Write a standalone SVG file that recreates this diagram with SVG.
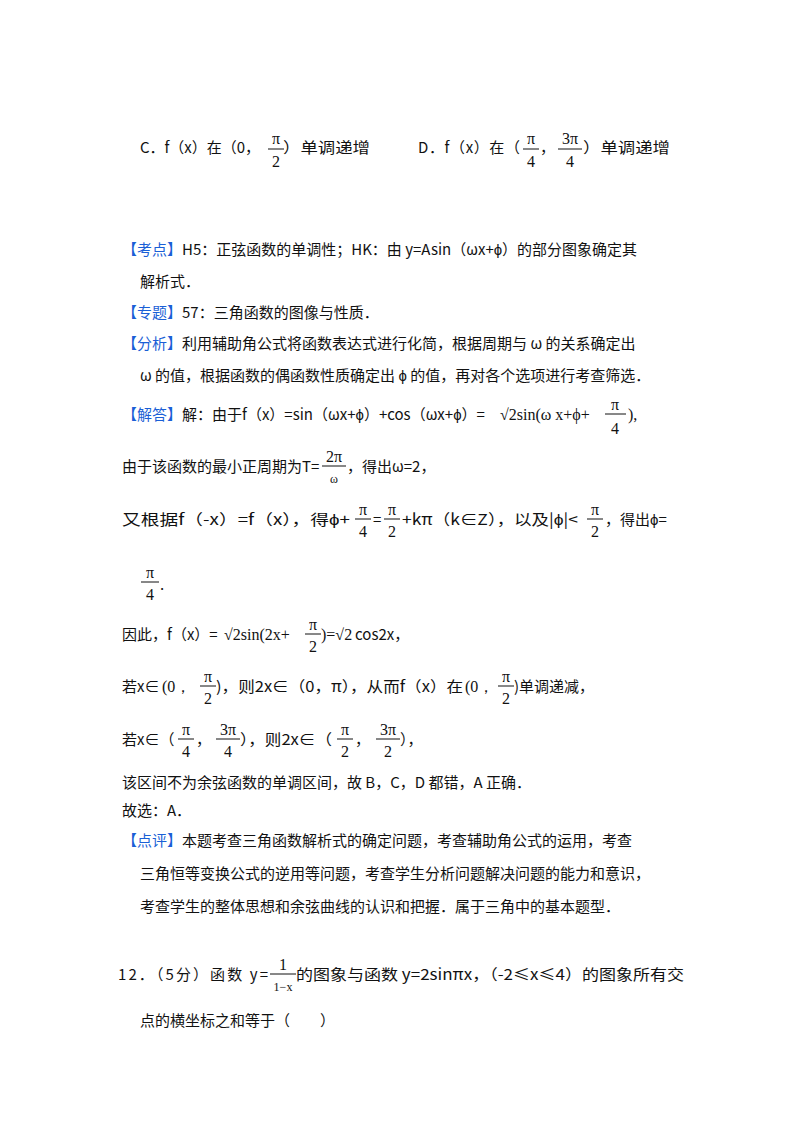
<svg xmlns="http://www.w3.org/2000/svg" width="800" height="1133" viewBox="0 0 800 1133">
<style>
text{font-family:"Noto Sans CJK SC","Liberation Sans",sans-serif;font-size:15px;fill:#111}
.b{fill:#1a5fd6}
.m{font-family:"Liberation Serif","DejaVu Serif",serif;font-size:16px;text-anchor:middle}
.s{font-family:"Liberation Serif","DejaVu Serif",serif;font-size:16px}
line{stroke:#111;stroke-width:1}
</style>
<rect width="800" height="1133" fill="#fff"/>
<g id="options">
<text x="140" y="153" textLength="120" lengthAdjust="spacing">C．f（x）在（0，</text>
<text class="m" x="276" y="144">π</text><line x1="268" y1="149" x2="284" y2="149"/><text class="m" x="276" y="167">2</text>
<text x="283" y="153" textLength="87" lengthAdjust="spacingAndGlyphs">）单调递增</text>
<text x="418" y="153" textLength="102" lengthAdjust="spacing">D．f（x）在（</text>
<text class="m" x="531" y="144">π</text><line x1="523" y1="149" x2="539" y2="149"/><text class="m" x="531" y="167">4</text>
<text x="540" y="153">，</text>
<text class="m" x="570" y="144">3π</text><line x1="558" y1="149" x2="582" y2="149"/><text class="m" x="570" y="167">4</text>
<text x="583" y="153" textLength="87" lengthAdjust="spacingAndGlyphs">）单调递增</text>
</g>
<g id="kaodian">
<text x="122" y="255"><tspan class="b">【考点】</tspan>H5：正弦函数的单调性；HK：由 y=Asin（ωx+ϕ）的部分图象确定其</text>
<text x="140" y="287">解析式．</text>
<text x="122" y="318"><tspan class="b">【专题】</tspan>57：三角函数的图像与性质．</text>
<text x="122" y="349"><tspan class="b">【分析】</tspan>利用辅助角公式将函数表达式进行化简，根据周期与 ω 的关系确定出</text>
<text x="140" y="381">ω 的值，根据函数的偶函数性质确定出 ϕ 的值，再对各个选项进行考查筛选．</text>
</g>
<g id="jieda">
<text x="122" y="420"><tspan class="b">【解答】</tspan>解：由于f（x）=sin（ωx+ϕ）+cos（ωx+ϕ）=</text>
<text class="s" x="500" y="420">√2sin(ω x+ϕ+</text>
<text class="m" x="615" y="410">π</text><line x1="605" y1="414" x2="626" y2="414"/><text class="m" x="615" y="434">4</text>
<text class="s" x="628" y="420">),</text>
<text x="122" y="472">由于该函数的最小正周期为T=</text>
<text class="m" x="334" y="462">2π</text><line x1="322" y1="466" x2="346" y2="466"/><text class="m" x="334" y="483" style="font-size:12px">ω</text>
<text x="347" y="472">，得出ω=2，</text>
<text x="122" y="525" textLength="228" lengthAdjust="spacingAndGlyphs">又根据f（-x）=f（x），得ϕ+</text>
<text class="m" x="363" y="515">π</text><line x1="355" y1="519" x2="371" y2="519"/><text class="m" x="363" y="537">4</text>
<text x="373" y="525">=</text>
<text class="m" x="392" y="515">π</text><line x1="384" y1="519" x2="400" y2="519"/><text class="m" x="392" y="537">2</text>
<text x="402" y="525" textLength="176" lengthAdjust="spacingAndGlyphs">+kπ（k∈Z），以及|ϕ|&lt;</text>
<text class="m" x="595" y="515">π</text><line x1="587" y1="519" x2="603" y2="519"/><text class="m" x="595" y="537">2</text>
<text x="605" y="525">，得出ϕ=</text>
<text class="m" x="150" y="578">π</text><line x1="141" y1="582" x2="159" y2="582"/><text class="m" x="150" y="600">4</text>
<text x="160" y="590">.</text>
<text x="122" y="640">因此，f（x）=</text>
<text class="s" x="224" y="640">√2sin(2x+</text>
<text class="m" x="313" y="630">π</text><line x1="305" y1="634" x2="321" y2="634"/><text class="m" x="313" y="652">2</text>
<text class="s" x="321" y="640">)=√2</text>
<text x="355" y="640">cos2x，</text>
<text x="122" y="692">若x∈</text>
<text class="s" x="162" y="692">(0，</text>
<text class="m" x="208" y="682">π</text><line x1="200" y1="686" x2="216" y2="686"/><text class="m" x="208" y="704">2</text>
<text x="216" y="692" textLength="247" lengthAdjust="spacingAndGlyphs">)，则2x∈（0，π），从而f（x）在</text>
<text class="s" x="465" y="692">(0，</text>
<text class="m" x="506" y="682">π</text><line x1="498" y1="686" x2="514" y2="686"/><text class="m" x="506" y="704">2</text>
<text x="514" y="692">)单调递减，</text>
<text x="122" y="745">若x∈（</text>
<text class="m" x="186" y="735">π</text><line x1="178" y1="739" x2="194" y2="739"/><text class="m" x="186" y="757">4</text>
<text x="196" y="745">，</text>
<text class="m" x="228" y="735">3π</text><line x1="216" y1="739" x2="240" y2="739"/><text class="m" x="228" y="757">4</text>
<text x="240" y="745" textLength="92" lengthAdjust="spacingAndGlyphs">），则2x∈（</text>
<text class="m" x="345" y="735">π</text><line x1="337" y1="739" x2="353" y2="739"/><text class="m" x="345" y="757">2</text>
<text x="355" y="745">，</text>
<text class="m" x="388" y="735">3π</text><line x1="376" y1="739" x2="400" y2="739"/><text class="m" x="388" y="757">2</text>
<text x="400" y="745">），</text>
<text x="122" y="788">该区间不为余弦函数的单调区间，故 B，C，D 都错，A 正确．</text>
<text x="122" y="816">故选：A．</text>
</g>
<g id="dianping">
<text x="122" y="846"><tspan class="b">【点评】</tspan>本题考查三角函数解析式的确定问题，考查辅助角公式的运用，考查</text>
<text x="140" y="879">三角恒等变换公式的逆用等问题，考查学生分析问题解决问题的能力和意识，</text>
<text x="140" y="912">考查学生的整体思想和余弦曲线的认识和把握．属于三角中的基本题型．</text>
</g>
<g id="q12">
<text x="118" y="980" textLength="150" lengthAdjust="spacing">12．（5分）函数 y=</text>
<text class="m" x="283" y="970">1</text><line x1="270" y1="974" x2="296" y2="974"/><text class="m" x="283" y="991" style="font-size:12px">1−x</text>
<text x="296" y="980" textLength="388" lengthAdjust="spacingAndGlyphs">的图象与函数 y=2sinπx，（-2≤x≤4）的图象所有交</text>
<text x="140" y="1026">点的横坐标之和等于（　　）</text>
</g>
</svg>
